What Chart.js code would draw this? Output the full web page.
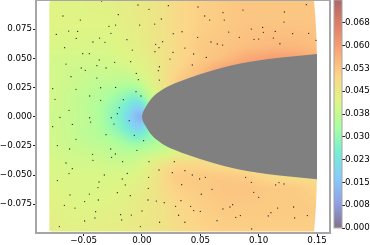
<!DOCTYPE html>
<html>
<head>
<meta charset="utf-8">
<style>
    html, body { margin: 0; padding: 0; background: #fff; overflow: hidden; }
    canvas { position: absolute; top: 0; }
    #fieldChart { left: 0; }
    #barChart { left: 330px; }
</style>
<script src="https://cdn.jsdelivr.net/npm/chart.js@4"></script>
</head>
<body>
<canvas id="fieldChart" width="335" height="245"></canvas>
<canvas id="barChart" width="40" height="245"></canvas>
<script>
// ************** Data
const xTicks = [-0.05, 0, 0.05, 0.10, 0.15];
const xTickLabels = ['\u22120.05', '0.00', '0.05', '0.10', '0.15'];
const yTicks = [-0.075, -0.05, -0.025, 0, 0.025, 0.05, 0.075];
const yTickLabels = ['\u22120.075', '\u22120.050', '\u22120.025', '0.000', '0.025', '0.050', '0.075'];
const barTicks = [0, 0.0075, 0.015, 0.0225, 0.03, 0.0375, 0.045, 0.0525, 0.06, 0.0675];
const barTickLabels = ['0.000', '0.008', '0.015', '0.023', '0.030', '0.038', '0.045', '0.053', '0.060', '0.068'];

// outline of the grey body, mirrored below y = 0
const bodyX = [0, 0.0005, 0.001, 0.0026, 0.0083, 0.0169, 0.0283, 0.0397, 0.0497, 0.0783, 0.1069, 0.15];
const bodyUpper = [0, 0.0028, 0.0042, 0.0072, 0.0158, 0.0229, 0.0286, 0.0329, 0.0363, 0.0443, 0.0492, 0.0537];
const bodyLower = [0, -0.0028, -0.0042, -0.0072, -0.0158, -0.0229, -0.0286, -0.0329, -0.0363, -0.0443, -0.0492, -0.0537];

// colour field, one row per gridY and one column per gridX
const gridX = [-0.08, -0.06, -0.04, -0.03, -0.02, -0.01, -0.005, 0, 0.005, 0.01, 0.02, 0.03, 0.05, 0.07, 0.09, 0.11, 0.13, 0.15];
const gridY = [0.1, 0.08, 0.06, 0.05, 0.04, 0.03, 0.02, 0.01, 0, -0.01, -0.02, -0.03, -0.04, -0.05, -0.06, -0.08, -0.1];
const gridValues = [
    [.042, .042, .043, .043, .044, .044, .045, .045, .045, .046, .047, .049, .051, .052, .053, .053, .053, .053],
    [.042, .042, .042, .042, .043, .044, .044, .045, .045, .046, .047, .049, .051, .052, .053, .053, .053, .053],
    [.041, .041, .041, .041, .042, .043, .043, .044, .045, .046, .047, .049, .052, .053, .054, .055, .055, .054],
    [.040, .040, .040, .040, .041, .042, .043, .043, .044, .045, .047, .049, .052, .054, .058, .060, .060, .057],
    [.040, .039, .039, .039, .039, .040, .041, .042, .043, .044, .047, .050, .054, .060, .062, .062, .060, .057],
    [.040, .039, .037, .037, .036, .036, .037, .039, .041, .043, .047, .052, .056, .060, .062, .062, .060, .058],
    [.040, .038, .036, .034, .032, .029, .029, .033, .038, .040, .046, .050, .056, .056, .056, .056, .056, .056],
    [.040, .038, .035, .032, .028, .022, .018, .021, .030, .040, .044, .048, .050, .050, .050, .050, .050, .050],
    [.039, .038, .035, .031, .026, .017, .012, .009, .020, .030, .036, .040, .040, .040, .040, .040, .040, .040],
    [.040, .038, .035, .032, .028, .022, .018, .021, .026, .034, .038, .040, .042, .042, .042, .042, .042, .042],
    [.040, .038, .036, .035, .033, .030, .029, .030, .031, .032, .037, .040, .042, .042, .042, .042, .042, .042],
    [.040, .039, .038, .037, .036, .036, .036, .037, .038, .038, .039, .042, .044, .045, .045, .045, .045, .045],
    [.041, .040, .040, .039, .039, .039, .040, .041, .043, .044, .047, .049, .049, .047, .046, .046, .046, .046],
    [.041, .041, .041, .041, .041, .041, .042, .043, .044, .045, .050, .052, .052, .052, .051, .048, .047, .046],
    [.042, .041, .041, .041, .042, .043, .043, .044, .045, .046, .049, .051, .052, .053, .053, .052, .052, .050],
    [.043, .042, .042, .043, .043, .044, .045, .045, .045, .046, .047, .049, .051, .052, .052, .052, .052, .052],
    [.044, .043, .044, .044, .044, .045, .045, .045, .046, .046, .047, .048, .050, .051, .051, .051, .051, .051]
];

// small black sample points
const dotX = [
    -.0346, -.0034, .0060, .0226, -.0677, -.0203, -.0528, .0166, -.0283, -.0226, -.0020, .0109, -.0628, -.0551, -.0734, -.0266, .0268, .0343,
    -.0563, -.0363, -.0129, -.0420, -.0317, .0177, .0117, -.0663, .0146, -.0083, .0111, .0266, -.0508, -.0451, .0240, -.0366, -.0234, -.0097,
    -.0651, -.0386, .0149, -.0520, -.0308, -.0486, .0140, -.0049, -.0608, -.0386, -.0031, .0149, -.0765, -.0565, -.0354, -.0226, -.0051, -.0009,
    -.0448, -.0745, -.0354, -.0160, -.0194, -.0625, -.0211, -.0703, -.0448, -.0263, -.0109, -.0440, -.0597, -.0240,
    .0480, .0537, .0694, .0865, .0580, .0705, .1220, .1217, .1408, .0743, .0937, .1034, .1040, .1142, .1291, .1428, .0477, .0834, .0960, .1000,
    .1125, .1491, .0591, .0645, .0691, .1182, .0368, .0443, .0551, .0431,
    -.0765, -.0308, -.0066, -.0565, .0014, -.0725, -.0620, -.0268, -.0043, -.0228, -.0423, -.0260, -.0420, -.0166, .0060, .0277, -.0651, -.0597,
    .0146, .0260, -.0625, -.0126, -.0323, .0057, -.0169, -.0725, -.0368, -.0143, .0340, -.0377, .0054, -.0211, -.0451, -.0617, -.0100, .0051,
    -.0374, .0123, -.0491, .0191, .0334, -.0665, .0288, -.0574, -.0397, .0000, -.0183, -.0091, .0314, -.0403, -.0174, -.0491, .0151, -.0708, -.0014,
    .0368, .0431, .0494, .0543, .0888, .0937, .1145, .1174, .1217, .0600, .0957, .0508, .1000, .0777, .0417, .0754, .0694, .1299, .1162, .0443,
    .0500, .1105, .1417, .0843, .0803, .1082, .1308, .0643, .0368, .0940
];
const dotY = [
    .0991, .0957, .0920, .0951, .0863, .0874, .0828, .0837, .0774, .0785, .0785, .0794, .0734, .0731, .0705, .0714, .0711, .0728,
    .0671, .0674, .0660, .0640, .0637, .0643, .0620, .0591, .0591, .0571, .0557, .0551, .0540, .0540, .0494, .0486, .0466, .0471,
    .0451, .0437, .0428, .0417, .0417, .0397, .0394, .0371, .0343, .0331, .0317, .0314, .0240, .0234, .0248, .0251, .0214, .0177,
    .0177, .0149, .0140, .0146, .0077, .0054, .0026, -.0006, -.0009, -.0009, -.0034, -.0046, -.0066, -.0063,
    .0940, .0863, .0891, .0914, .0828, .0828, .0897, .0811, .0960, .0725, .0751, .0765, .0723, .0731, .0711, .0714, .0680, .0680, .0663, .0665,
    .0674, .0654, .0640, .0623, .0614, .0625, .0588, .0537, .0508, .0443,
    -.0086, -.0154, -.0160, -.0194, -.0206, -.0248, -.0277, -.0277, -.0288, -.0320, -.0323, -.0348, -.0374, -.0386, -.0386, -.0386, -.0397, -.0446,
    -.0457, -.0480, -.0488, -.0486, -.0500, -.0520, -.0534, -.0548, -.0560, -.0585, -.0583, -.0608, -.0614, -.0651, -.0663, -.0671, -.0677, -.0714,
    -.0714, -.0723, -.0728, -.0737, -.0720, -.0760, -.0768, -.0783, -.0814, -.0808, -.0840, -.0843, -.0845, -.0868, -.0885, -.0894, -.0905, -.0942, -.0942,
    -.0463, -.0500, -.0534, -.0520, -.0520, -.0563, -.0585, -.0565, -.0577, -.0623, -.0648, -.0665, -.0691, -.0754, -.0768, -.0774, -.0791, -.0774, -.0783, -.0805,
    -.0811, -.0823, -.0848, -.0848, -.0863, -.0851, -.0868, -.0891, -.0905, -.0962
];

// turbo colormap: position, r, g, b
const mapStops = [
    [0, 48, 18, 59], [0.111, 70, 98, 215], [0.222, 54, 170, 249], [0.333, 26, 228, 182], [0.444, 114, 254, 94],
    [0.556, 200, 239, 52], [0.667, 250, 186, 57], [0.778, 246, 107, 25], [0.889, 203, 42, 4], [1, 122, 4, 3]
];
const fieldMax = 0.075;
const fieldAlpha = 0.6;

const spineColor = '#a6a6a6';
const tickFont = { family: 'DejaVu Sans', size: 8.7 };

// ************** Colour helpers
function mapColor(t) {
    if (t <= 0) return mapStops[0].slice(1);
    for (let i = 1; i < mapStops.length; i++) {
        if (t <= mapStops[i][0]) {
            const a = mapStops[i - 1], b = mapStops[i];
            const f = (t - a[0]) / (b[0] - a[0]);
            return [a[1] + (b[1] - a[1]) * f, a[2] + (b[2] - a[2]) * f, a[3] + (b[3] - a[3]) * f];
        }
    }
    return mapStops[mapStops.length - 1].slice(1);
}

function findCell(list, v) {
    // list may run up or down
    for (let i = 0; i < list.length - 1; i++) {
        const lo = Math.min(list[i], list[i + 1]), hi = Math.max(list[i], list[i + 1]);
        if (v >= lo && v <= hi) return [i, (v - list[i]) / (list[i + 1] - list[i])];
    }
    const atStart = Math.abs(v - list[0]) < Math.abs(v - list[list.length - 1]);
    return atStart ? [0, 0] : [list.length - 2, 1];
}

function fieldAt(x, y) {
    const [c, fx] = findCell(gridX, x);
    const [r, fy] = findCell(gridY, y);
    const top = gridValues[r][c] * (1 - fx) + gridValues[r][c + 1] * fx;
    const bottom = gridValues[r + 1][c] * (1 - fx) + gridValues[r + 1][c + 1] * fx;
    return top * (1 - fy) + bottom * fy;
}

// ************** Plugin: paints the field under the marks, using the chart's scales
let fieldImage = null;
const fieldMargin = 10; // extra pixels so the blur does not fade at the clip edge
const fieldPlugin = {
    id: 'fieldPlugin',
    beforeDatasetsDraw(chart) {
        const { ctx, scales } = chart;
        const left = scales.x.getPixelForValue(-0.0794);
        const right = scales.x.getPixelForValue(0.15);
        const top = scales.y.getPixelForValue(0.0992);
        const bottom = scales.y.getPixelForValue(-0.0985);

        if (!fieldImage) {
            const w = Math.ceil(right - left) + 1 + 2 * fieldMargin, h = Math.ceil(bottom - top) + 1 + 2 * fieldMargin;
            fieldImage = document.createElement('canvas');
            fieldImage.width = w;
            fieldImage.height = h;
            const off = fieldImage.getContext('2d');
            const img = off.createImageData(w, h);
            for (let j = 0; j < h; j++) {
                for (let i = 0; i < w; i++) {
                    const val = fieldAt(scales.x.getValueForPixel(left - fieldMargin + i), scales.y.getValueForPixel(top - fieldMargin + j));
                    const col = mapColor(val / fieldMax);
                    const p = (j * w + i) * 4;
                    img.data[p] = col[0];
                    img.data[p + 1] = col[1];
                    img.data[p + 2] = col[2];
                    img.data[p + 3] = 255 * fieldAlpha;
                }
            }
            off.putImageData(img, 0, 0);
        }

        ctx.save();
        ctx.beginPath();
        ctx.moveTo(left + 2, top);
        ctx.lineTo(right - 3, top);
        ctx.quadraticCurveTo(right - 0.5, top + 25, right, top + 60);
        ctx.lineTo(right, bottom - 60);
        ctx.quadraticCurveTo(right - 0.5, bottom - 25, right - 3, bottom);
        ctx.lineTo(left + 2, bottom);
        ctx.quadraticCurveTo(left, bottom, left, bottom - 2);
        ctx.lineTo(left, top + 2);
        ctx.quadraticCurveTo(left, top, left + 2, top);
        ctx.clip();
        ctx.filter = 'blur(2.5px)';
        ctx.drawImage(fieldImage, left - fieldMargin, top - fieldMargin);
        ctx.restore();
    },
    afterDraw(chart) {
        // matplotlib keeps all four spines, Chart.js only draws two
        const { ctx, chartArea } = chart;
        ctx.save();
        ctx.strokeStyle = spineColor;
        ctx.lineWidth = 2;
        ctx.strokeRect(chartArea.left, chartArea.top, chartArea.right - chartArea.left, chartArea.bottom - chartArea.top);
        ctx.restore();
    }
};

// ************** Main chart
function toPoints(xs, ys) {
    return xs.map((x, i) => ({ x: x, y: ys[i] }));
}

new Chart(document.getElementById('fieldChart').getContext('2d'), {
    type: 'scatter',
    data: {
        datasets: [
            { data: toPoints(bodyX, bodyUpper), showLine: true, pointRadius: 0, borderWidth: 0, cubicInterpolationMode: 'monotone', backgroundColor: '#808080', fill: '+1' },
            { data: toPoints(bodyX, bodyLower), showLine: true, pointRadius: 0, borderWidth: 0, cubicInterpolationMode: 'monotone' },
            { data: toPoints(dotX, dotY), pointRadius: 0.65, pointBackgroundColor: '#222', pointBorderWidth: 0 }
        ]
    },
    options: {
        responsive: false,
        animation: false,
        events: [],
        layout: { autoPadding: false, padding: { right: 5 } },
        plugins: { legend: { display: false }, tooltip: { enabled: false } },
        scales: {
            x: {
                type: 'linear',
                min: -0.0908,
                max: 0.1611,
                afterBuildTicks: axis => { axis.ticks = xTicks.map(v => ({ value: v })); },
                afterFit: axis => { axis.height = 12; axis.paddingLeft = 0; axis.paddingRight = 0; },
                border: { display: false },
                grid: { drawOnChartArea: false, drawTicks: true, tickLength: 3, tickColor: '#222', tickWidth: 1 },
                ticks: { font: tickFont, color: '#000', padding: 0, maxRotation: 0, autoSkip: false, callback: (v, i) => xTickLabels[i] }
            },
            y: {
                type: 'linear',
                min: -0.0997,
                max: 0.1,
                afterBuildTicks: axis => { axis.ticks = yTicks.map(v => ({ value: v })); },
                afterFit: axis => { axis.width = 36; axis.paddingTop = 0; axis.paddingBottom = 0; },
                border: { display: false },
                grid: { drawOnChartArea: false, drawTicks: true, tickLength: 3, tickColor: '#222', tickWidth: 1 },
                ticks: { font: tickFont, color: '#000', padding: 1, autoSkip: false, callback: (v, i) => yTickLabels[i] }
            }
        }
    },
    plugins: [fieldPlugin]
});

// ************** Colour bar
function barGradient(context) {
    const { ctx, chartArea } = context.chart;
    if (!chartArea) return '#888';
    const g = ctx.createLinearGradient(0, chartArea.bottom, 0, chartArea.top);
    mapStops.forEach(s => g.addColorStop(s[0], `rgba(${s[1]},${s[2]},${s[3]},${fieldAlpha})`));
    return g;
}

new Chart(document.getElementById('barChart').getContext('2d'), {
    type: 'bar',
    data: {
        labels: ['field'],
        datasets: [{ data: [[0, fieldMax]], backgroundColor: barGradient, borderWidth: 0, barPercentage: 1, categoryPercentage: 1 }]
    },
    options: {
        responsive: false,
        animation: false,
        events: [],
        layout: { autoPadding: false, padding: { left: 4, top: 0, bottom: 17 } },
        plugins: { legend: { display: false }, tooltip: { enabled: false } },
        scales: {
            x: { display: false },
            y: {
                position: 'right',
                min: 0,
                max: fieldMax,
                afterBuildTicks: axis => { axis.ticks = barTicks.map(v => ({ value: v })); },
                afterFit: axis => { axis.width = 28; axis.paddingTop = 0; axis.paddingBottom = 0; },
                border: { display: false },
                grid: { drawOnChartArea: false, drawTicks: true, tickLength: 3, tickColor: '#222', tickWidth: 1 },
                ticks: { font: tickFont, color: '#000', padding: 0, autoSkip: false, callback: (v, i) => barTickLabels[i] }
            }
        }
    },
    plugins: [{
        id: 'barFrame',
        afterDraw(chart) {
            const { ctx, chartArea } = chart;
            ctx.save();
            ctx.strokeStyle = spineColor;
            ctx.lineWidth = 1;
            ctx.strokeRect(chartArea.left, chartArea.top, chartArea.right - chartArea.left, chartArea.bottom - chartArea.top);
            ctx.restore();
        }
    }]
});
</script>
</body>
</html>
